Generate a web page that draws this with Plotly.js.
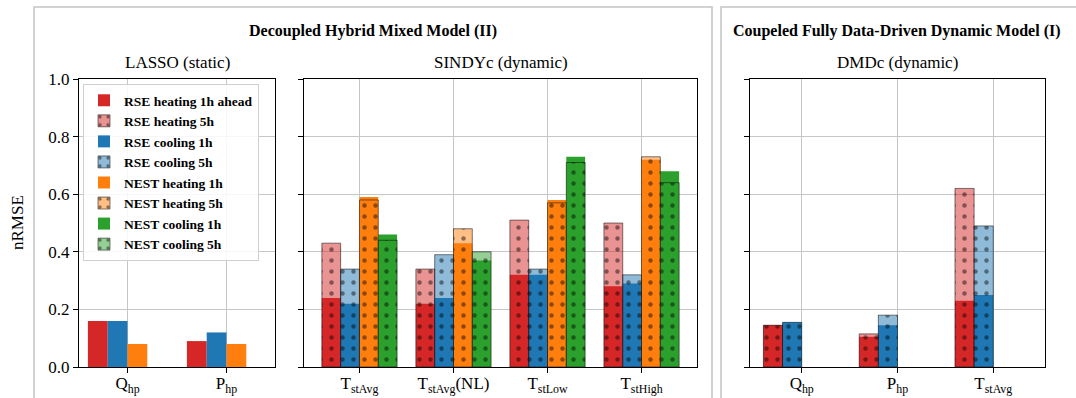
<!DOCTYPE html>
<html>
<head>
<meta charset="utf-8">
<script src="https://cdn.plot.ly/plotly-3.0.1.min.js"></script>
<style>
html, body { margin: 0; padding: 0; background: #fff; }
#chart { width: 1076px; height: 398px; }
</style>
</head>
<body>
<div id="chart"></div>
<script>
// ---------------- DATA ----------------
const seriesNames = [
  'RSE heating 1h ahead', 'RSE heating 5h',
  'RSE cooling 1h', 'RSE cooling 5h',
  'NEST heating 1h', 'NEST heating 5h',
  'NEST cooling 1h', 'NEST cooling 5h'
];

// LASSO (static) - only 1h values
const lassoCats = ['Qhp', 'Php'];
const lassoTickText = ['Q<sub>hp</sub>', 'P<sub>hp</sub>'];
const lassoRseHeat1h = [0.16, 0.09];
const lassoRseCool1h = [0.16, 0.12];
const lassoNestHeat1h = [0.08, 0.08];

// SINDYc (dynamic)
const sindyCats = ['TstAvg', 'TstAvgNL', 'TstLow', 'TstHigh'];
const sindyTickText = ['T<sub>stAvg</sub>', 'T<sub>stAvg</sub>(NL)', 'T<sub>stLow</sub>', 'T<sub>stHigh</sub>'];
const sindyRseHeat1h = [0.24, 0.22, 0.32, 0.28];
const sindyRseHeat5h = [0.43, 0.34, 0.51, 0.50];
const sindyRseCool1h = [0.22, 0.24, 0.32, 0.29];
const sindyRseCool5h = [0.34, 0.39, 0.34, 0.32];
const sindyNestHeat1h = [0.59, 0.43, 0.58, 0.72];
const sindyNestHeat5h = [0.58, 0.48, 0.57, 0.73];
const sindyNestCool1h = [0.46, 0.37, 0.73, 0.68];
const sindyNestCool5h = [0.44, 0.40, 0.71, 0.64];

// DMDc (dynamic)
const dmdCats = ['Qhp', 'Php', 'TstAvg'];
const dmdTickText = ['Q<sub>hp</sub>', 'P<sub>hp</sub>', 'T<sub>stAvg</sub>'];
const dmdRseHeat1h = [0.145, 0.105, 0.23];
const dmdRseHeat5h = [0.145, 0.115, 0.62];
const dmdRseCool1h = [0.155, 0.145, 0.25];
const dmdRseCool5h = [0.155, 0.18, 0.49];

// ---------------- STYLE ----------------
const FONT = 'Liberation Serif, Times New Roman, serif';
const W = 1076, H = 398;
const px = v => v / W;
const py = v => 1 - v / H;

const colors = {
  red: [214, 39, 40],
  blue: [31, 119, 180],
  orange: [255, 127, 14],
  green: [44, 160, 44]
};
const rgb = c => `rgb(${c[0]},${c[1]},${c[2]})`;
const rgba = (c, a) => `rgba(${c[0]},${c[1]},${c[2]},${a})`;
const slotOffset = { red: -0.4, blue: -0.2, orange: 0.0, green: 0.2 };

function bar1h(cats, vals, col, name, axis, legend, rank) {
  return {
    type: 'bar', x: cats, y: vals, name: name,
    xaxis: 'x' + axis, yaxis: 'y' + axis,
    width: 0.2, offset: slotOffset[col],
    marker: { color: rgb(colors[col]), line: { width: 0 } },
    showlegend: legend, legendgroup: name, legendrank: rank,
    hoverinfo: 'x+y+name'
  };
}
function bar5h(cats, vals, col, name, axis, legend, rank) {
  return {
    type: 'bar', x: cats, y: vals, name: name,
    xaxis: 'x' + axis, yaxis: 'y' + axis,
    width: 0.2, offset: slotOffset[col],
    marker: {
      color: rgba(colors[col], 0.5),
      line: { width: 1, color: 'rgba(0,0,0,0.5)' },
      pattern: {
        shape: '.', fillmode: 'replace',
        bgcolor: rgba(colors[col], 0.5),
        fgcolor: '#000000', fgopacity: 0.45,
        size: 11, solidity: 0.13
      }
    },
    showlegend: legend, legendgroup: name, legendrank: rank,
    hoverinfo: 'x+y+name'
  };
}

const data = [
  // LASSO
  bar1h(lassoCats, lassoRseHeat1h, 'red', seriesNames[0], '', false, 1),
  bar1h(lassoCats, lassoRseCool1h, 'blue', seriesNames[2], '', false, 3),
  bar1h(lassoCats, lassoNestHeat1h, 'orange', seriesNames[4], '', false, 5),
  // SINDYc 1h
  bar1h(sindyCats, sindyRseHeat1h, 'red', seriesNames[0], '2', true, 1),
  bar1h(sindyCats, sindyRseCool1h, 'blue', seriesNames[2], '2', true, 3),
  bar1h(sindyCats, sindyNestHeat1h, 'orange', seriesNames[4], '2', true, 5),
  bar1h(sindyCats, sindyNestCool1h, 'green', seriesNames[6], '2', true, 7),
  // SINDYc 5h
  bar5h(sindyCats, sindyRseHeat5h, 'red', seriesNames[1], '2', true, 2),
  bar5h(sindyCats, sindyRseCool5h, 'blue', seriesNames[3], '2', true, 4),
  bar5h(sindyCats, sindyNestHeat5h, 'orange', seriesNames[5], '2', true, 6),
  bar5h(sindyCats, sindyNestCool5h, 'green', seriesNames[7], '2', true, 8),
  // DMDc
  bar1h(dmdCats, dmdRseHeat1h, 'red', seriesNames[0], '3', false, 1),
  bar1h(dmdCats, dmdRseCool1h, 'blue', seriesNames[2], '3', false, 3),
  bar5h(dmdCats, dmdRseHeat5h, 'red', seriesNames[1], '3', false, 2),
  bar5h(dmdCats, dmdRseCool5h, 'blue', seriesNames[3], '3', false, 4)
];

function xaxisDef(domain, cats, ticks, range) {
  return {
    domain: domain, type: 'category', range: range,
    tickmode: 'array', tickvals: cats, ticktext: ticks,
    showline: true, mirror: true, linecolor: '#000', linewidth: 1,
    showgrid: true, gridcolor: '#c6c6c6', gridwidth: 1,
    ticks: 'outside', ticklen: 5, tickwidth: 1, tickcolor: '#000',
    ticklabelstandoff: -4,
    tickfont: { family: FONT, size: 17, color: '#000' },
    zeroline: false, fixedrange: true
  };
}
function yaxisDef(labels, anchor) {
  return {
    domain: [py(367), py(79)], range: [0, 1.0], anchor: anchor,
    tickmode: 'linear', tick0: 0, dtick: 0.2, tickformat: '.1f',
    showticklabels: labels,
    showline: true, mirror: true, linecolor: '#000', linewidth: 1,
    showgrid: true, gridcolor: '#c6c6c6', gridwidth: 1,
    ticks: 'outside', ticklen: 5, tickwidth: 1, tickcolor: '#000',
    tickfont: { family: FONT, size: 17, color: '#000' },
    zeroline: false, fixedrange: true
  };
}

const yx = yaxisDef(true, 'x');
const yx2 = yaxisDef(false, 'x2'); yx2.matches = 'y';
const yx3 = yaxisDef(false, 'x3'); yx3.matches = 'y';

const layout = {
  width: W, height: H,
  margin: { l: 0, r: 0, t: 0, b: 0 },
  paper_bgcolor: '#fff', plot_bgcolor: '#fff',
  barmode: 'overlay',
  font: { family: FONT, color: '#000' },
  xaxis: Object.assign(xaxisDef([px(79), px(275)], lassoCats, lassoTickText, [-0.49, 1.49]), { anchor: 'y' }),
  xaxis2: Object.assign(xaxisDef([px(304), px(697)], sindyCats, sindyTickText, [-0.59, 3.59]), { anchor: 'y2' }),
  xaxis3: Object.assign(xaxisDef([px(750), px(1045)], dmdCats, dmdTickText, [-0.54, 2.54]), { anchor: 'y3' }),
  yaxis: yx, yaxis2: yx2, yaxis3: yx3,
  legend: {
    x: px(83), y: py(84), xanchor: 'left', yanchor: 'top',
    xref: 'paper', yref: 'paper',
    bgcolor: 'rgba(255,255,255,0.85)', bordercolor: '#d0d0d0', borderwidth: 1,
    font: { family: FONT, size: 13.5, color: '#000', weight: 'bold' },
    traceorder: 'normal', tracegroupgap: 0
  },
  shapes: [
    { type: 'rect', xref: 'paper', yref: 'paper', x0: px(34), x1: px(712), y0: py(420), y1: py(7),
      line: { color: '#c4c4c4', width: 1.5 }, fillcolor: 'rgba(0,0,0,0)', layer: 'below' },
    { type: 'rect', xref: 'paper', yref: 'paper', x0: px(721), x1: px(1100), y0: py(420), y1: py(7),
      line: { color: '#c4c4c4', width: 1.5 }, fillcolor: 'rgba(0,0,0,0)', layer: 'below' }
  ],
  annotations: [
    { text: '<b>Decoupled Hybrid Mixed Model (II)</b>', xref: 'paper', yref: 'paper',
      x: px(373), y: py(31), xanchor: 'center', yanchor: 'middle', showarrow: false,
      font: { family: FONT, size: 16, color: '#000' } },
    { text: '<b>Coupeled Fully Data-Driven Dynamic Model (I)</b>', xref: 'paper', yref: 'paper',
      x: px(731), y: py(31), xanchor: 'left', yanchor: 'middle', showarrow: false,
      font: { family: FONT, size: 16, color: '#000' } },
    { text: 'LASSO (static)', xref: 'paper', yref: 'paper',
      x: px(177), y: py(63), xanchor: 'center', yanchor: 'middle', showarrow: false,
      font: { family: FONT, size: 17, color: '#000' } },
    { text: 'SINDYc (dynamic)', xref: 'paper', yref: 'paper',
      x: px(500.5), y: py(63), xanchor: 'center', yanchor: 'middle', showarrow: false,
      font: { family: FONT, size: 17, color: '#000' } },
    { text: 'DMDc (dynamic)', xref: 'paper', yref: 'paper',
      x: px(897.5), y: py(63), xanchor: 'center', yanchor: 'middle', showarrow: false,
      font: { family: FONT, size: 17, color: '#000' } },
    { text: 'nRMSE', xref: 'paper', yref: 'paper', textangle: -90,
      x: px(17), y: py(223), xanchor: 'center', yanchor: 'middle', showarrow: false,
      font: { family: FONT, size: 17, color: '#000' } }
  ]
};

Plotly.newPlot('chart', data, layout, { displayModeBar: false, staticPlot: true });
</script>
</body>
</html>
